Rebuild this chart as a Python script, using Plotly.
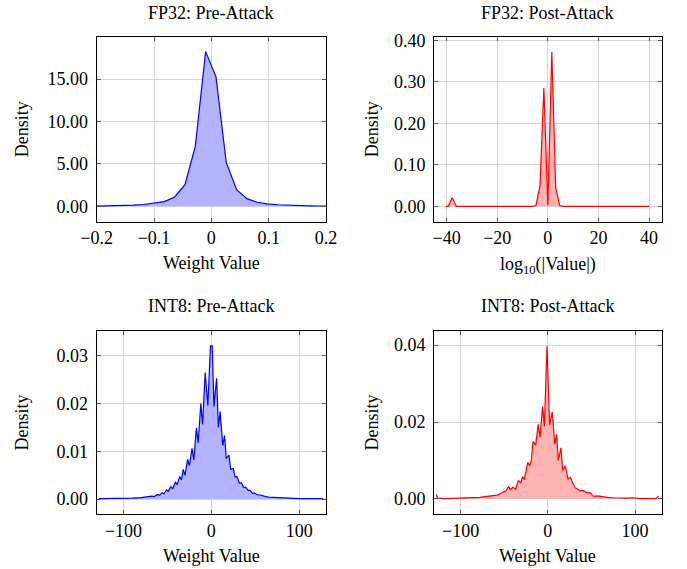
import plotly.graph_objects as go

# ---------------- data ----------------
fp32_pre_x = [-0.200, -0.190, -0.172, -0.154, -0.136, -0.118, -0.100, -0.082, -0.064, -0.046,
              -0.028, -0.010, 0.008, 0.026, 0.044, 0.062, 0.080, 0.098, 0.116, 0.134,
              0.152, 0.170, 0.188, 0.200]
fp32_pre_y = [0.02, 0.03, 0.05, 0.08, 0.13, 0.21, 0.36, 0.55, 1.10, 2.55,
              7.06, 18.24, 15.30, 5.18, 1.96, 0.90, 0.47, 0.28, 0.18, 0.12,
              0.08, 0.05, 0.03, 0.02]

fp32_post_x = [-40.3, -39.4, -37.8, -36.2, -6.3, -4.7, -3.1, -1.57, 0.0, 1.57, 3.1, 4.7, 6.3, 40.0]
fp32_post_y = [0.0, 0.0, 0.021, 0.0, 0.0, 0.002, 0.05, 0.285, 0.003, 0.372, 0.045, 0.002, 0.0, 0.0]

int8_pre_x = [-128, -115, -100, -90, -80, -75, -68, -65, -62, -59, -56, -54, -51, -49, -46, -44,
              -41, -39, -36, -34, -32, -30, -27, -25, -22, -20, -17, -15, -12, -10, -7, -4,
              -1, 1, 3, 6, 8, 10, 13, 15, 17, 20, 22, 25, 27, 29, 32, 34, 37, 39, 42, 44,
              47, 49, 52, 54, 57, 60, 65, 75, 85, 100, 115, 127]
int8_pre_y = [0.0001, 0.0001, 0.0002, 0.0002, 0.0003, 0.0004, 0.0006, 0.0005, 0.0009, 0.0008,
              0.0013, 0.0011, 0.0019, 0.0016, 0.0026, 0.0021, 0.0036, 0.0030, 0.0047, 0.0040,
              0.0062, 0.0050, 0.0083, 0.0070, 0.0106, 0.0082, 0.0149, 0.0118, 0.0200, 0.0156,
              0.0265, 0.0196, 0.0321, 0.0321, 0.0194, 0.0253, 0.0150, 0.0183, 0.0112, 0.0133,
              0.0085, 0.0092, 0.0062, 0.0064, 0.0046, 0.0047, 0.0033, 0.0034, 0.0024, 0.0025,
              0.0018, 0.0018, 0.0012, 0.0013, 0.0009, 0.0009, 0.0007, 0.0006, 0.0004, 0.0003,
              0.0002, 0.0001, 0.0001, 0.0001]

int8_post_x = [-128, -126, -118, -108, -100, -92, -84, -78, -72, -67, -62, -58, -54, -51, -48,
               -45, -43, -40, -37, -34, -31, -29, -27, -25, -23, -21, -19, -17, -14, -11, -9,
               -6, -4, -1, 2, 5, 8, 10, 12, 15, 17, 20, 23, 26, 28, 31, 34, 37, 40, 43, 46,
               48, 52, 57, 62, 68, 75, 82, 90, 98, 105, 115, 124, 127]
int8_post_y = [0.0012, 0.0002, 0.0001, 0.0002, 0.0001, 0.0002, 0.0003, 0.0004, 0.0006, 0.0007,
               0.0009, 0.0010, 0.0014, 0.0017, 0.0021, 0.0032, 0.0024, 0.0030, 0.0025, 0.0047,
               0.0042, 0.0058, 0.0050, 0.0073, 0.0095, 0.0086, 0.0099, 0.0150, 0.0140, 0.0194,
               0.0160, 0.0240, 0.0189, 0.0397, 0.0192, 0.0226, 0.0142, 0.0168, 0.0100, 0.0133,
               0.0074, 0.0086, 0.0052, 0.0056, 0.0043, 0.0030, 0.0026, 0.0021, 0.0022, 0.0019,
               0.0015, 0.0017, 0.0007, 0.0008, 0.0006, 0.0004, 0.0003, 0.0002, 0.0002, 0.0003,
               0.0001, 0.0001, 0.0001, 0.0007]

# tick values / labels
fp32_pre_xticks = [-0.2, -0.1, 0, 0.1, 0.2]
fp32_pre_xlabels = ["\u22120.2", "\u22120.1", "0", "0.1", "0.2"]
fp32_pre_yticks = [0, 5, 10, 15]
fp32_post_xticks = [-40, -20, 0, 20, 40]
fp32_post_yticks = [0, 0.1, 0.2, 0.3, 0.4]
int8_pre_xticks = [-100, 0, 100]
int8_pre_yticks = [0, 0.01, 0.02, 0.03]
int8_post_xticks = [-100, 0, 100]
int8_post_yticks = [0, 0.02, 0.04]

titles = ["FP32: Pre-Attack", "FP32: Post-Attack", "INT8: Pre-Attack", "INT8: Post-Attack"]
xlabels = ["Weight Value", "log<sub>10</sub>(|Value|)", "Weight Value", "Weight Value"]
ylabel = "Density"

# ---------------- layout ----------------
W, H = 687, 569
FONT = "Liberation Serif"
FS = 18

def px(x):
    return x / W

def py(y):
    return 1 - y / H

LX = [96.7, 326.0]
RX = [434.0, 661.7]
TY = [36.7, 221.7]
BY = [330.5, 514.3]

BLUE = "#0000ff"
BLUE_FILL = "#b3b3ff"
RED = "#ff0000"
RED_FILL = "#ffb3b3"

fig = go.Figure()

def add(x, y, xa, ya, color, fill):
    fig.add_trace(go.Scatter(x=x, y=y, xaxis=xa, yaxis=ya, mode="lines",
                             line=dict(color=color, width=1.2),
                             fill="tozeroy", fillcolor=fill, showlegend=False,
                             hoverinfo="skip"))

add(fp32_pre_x, fp32_pre_y, "x", "y", BLUE, BLUE_FILL)
add(fp32_post_x, fp32_post_y, "x2", "y2", RED, RED_FILL)
add(int8_pre_x, int8_pre_y, "x3", "y3", BLUE, BLUE_FILL)
add(int8_post_x, int8_post_y, "x4", "y4", RED, RED_FILL)

common = dict(showline=True, linecolor="black", linewidth=1, mirror="allticks",
              ticks="inside", ticklen=4, tickcolor="#555555", tickwidth=1,
              showgrid=True, gridcolor="#d6d6d6", gridwidth=1, zeroline=False,
              tickfont=dict(family=FONT, size=FS, color="black"),
              fixedrange=True, automargin=False)

def xax(dom, anchor, rng, tv, tt=None):
    d = dict(common, domain=[px(dom[0]), px(dom[1])], anchor=anchor, range=rng, tickvals=tv,
             ticklabelstandoff=0)
    if tt is not None:
        d["ticktext"] = tt
    return d

def yax(dom, anchor, rng, tv, fmt):
    return dict(common, domain=[py(dom[1]), py(dom[0])], anchor=anchor, range=rng,
                tickvals=tv, tickformat=fmt, ticklabelstandoff=4)

fig.update_layout(
    template="none",
    width=W, height=H, autosize=False,
    margin=dict(l=0, r=0, t=0, b=0, pad=0, autoexpand=False),
    paper_bgcolor="white", plot_bgcolor="white",
    xaxis=xax(LX, "y", [-0.2, 0.2], fp32_pre_xticks, fp32_pre_xlabels),
    yaxis=yax(TY, "x", [-1.82, 20.0], fp32_pre_yticks, ".2f"),
    xaxis2=xax(RX, "y2", [-45, 45], fp32_post_xticks),
    yaxis2=yax(TY, "x2", [-0.037, 0.409], fp32_post_yticks, ".2f"),
    xaxis3=xax(LX, "y3", [-130.5, 130.5], int8_pre_xticks),
    yaxis3=yax(BY, "x3", [-0.0032, 0.0353], int8_pre_yticks, ".2f"),
    xaxis4=xax(RX, "y4", [-130.5, 130.5], int8_post_xticks),
    yaxis4=yax(BY, "x4", [-0.0040, 0.0438], int8_post_yticks, ".2f"),
)

ann = []
centers_x = [(LX[0] + LX[1]) / 2, (RX[0] + RX[1]) / 2, (LX[0] + LX[1]) / 2, (RX[0] + RX[1]) / 2]
title_y = [13, 13, 306, 306]
xlab_y = [263, 265, 556, 556]
ylab_x = [22, 372, 22, 372]
ylab_y = [(TY[0] + TY[1]) / 2, (TY[0] + TY[1]) / 2, (BY[0] + BY[1]) / 2, (BY[0] + BY[1]) / 2]
for i in range(4):
    ann.append(dict(text=titles[i], x=px(centers_x[i]), y=py(title_y[i]), xref="paper", yref="paper",
                    showarrow=False, xanchor="center", yanchor="middle",
                    font=dict(family=FONT, size=FS, color="black")))
    ann.append(dict(text=xlabels[i], x=px(centers_x[i]), y=py(xlab_y[i]), xref="paper", yref="paper",
                    showarrow=False, xanchor="center", yanchor="middle",
                    font=dict(family=FONT, size=FS, color="black")))
    ann.append(dict(text=ylabel, x=px(ylab_x[i]), y=py(ylab_y[i]), xref="paper", yref="paper",
                    showarrow=False, xanchor="center", yanchor="middle", textangle=-90,
                    font=dict(family=FONT, size=FS, color="black")))
fig.update_layout(annotations=ann)

fig.write_html("out.html", config={"displayModeBar": False},
               post_script="document.body.style.margin='0';document.body.style.padding='0';")
